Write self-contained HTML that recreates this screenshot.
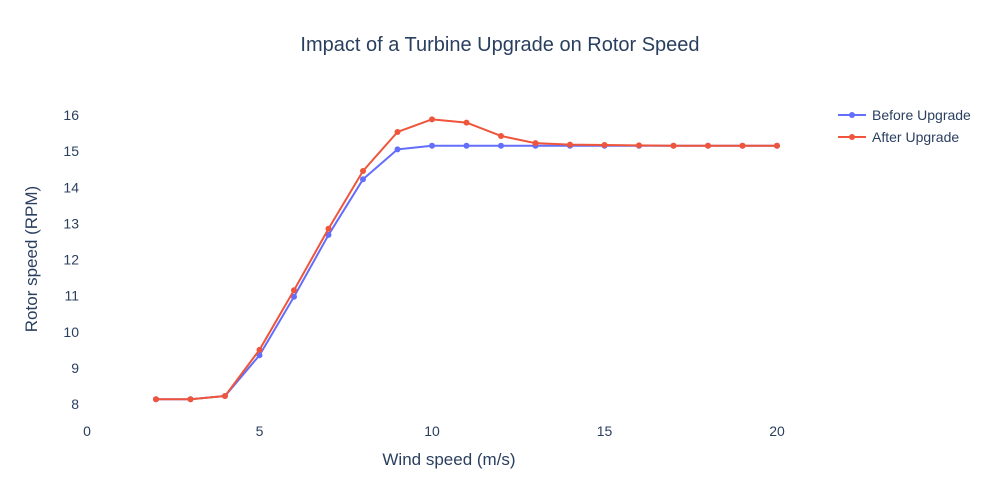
<!DOCTYPE html>
<html><head><meta charset="utf-8"><style>body{margin:0;background:#fff}svg{display:block;font-family:"Liberation Sans",Arial,sans-serif}</style></head>
<body>
<svg id="s" width="1000" height="500" xmlns="http://www.w3.org/2000/svg">
<rect width="1000" height="500" fill="#fff"/>
<text x="500" y="51" text-anchor="middle" font-size="20" fill="#2a3f5f">Impact of a Turbine Upgrade on Rotor Speed</text>
<g font-size="14" fill="#2a3f5f" text-anchor="middle">
<text x="87" y="436">0</text><text x="259.5" y="436">5</text><text x="432" y="436">10</text><text x="604.5" y="436">15</text><text x="777" y="436">20</text>
</g>
<g font-size="14" fill="#2a3f5f" text-anchor="end" id="yt"></g>
<text x="449" y="465" text-anchor="middle" font-size="17" fill="#2a3f5f">Wind speed (m/s)</text>
<text transform="translate(37,259) rotate(-90)" text-anchor="middle" font-size="17" fill="#2a3f5f">Rotor speed (RPM)</text>
<g id="d"></g>
<g font-size="14" fill="#2a3f5f">
<line x1="838" y1="115" x2="866" y2="115" stroke="#636efa" stroke-width="2"/><circle cx="852" cy="115" r="3" fill="#636efa"/>
<text x="872" y="120">Before Upgrade</text>
<line x1="838" y1="137" x2="866" y2="137" stroke="#ef553b" stroke-width="2"/><circle cx="852" cy="137" r="3" fill="#ef553b"/>
<text x="872" y="142">After Upgrade</text>
</g>
</svg>
<script>
var X=x=>87+34.5*x,Y=v=>404-36.125*(v-8);
var yt=document.getElementById('yt'),h='';
for(var v=8;v<=16;v++)h+='<text x="79" y="'+(Y(v)+5)+'">'+v+'</text>';
yt.innerHTML=h;
var b=[8.13,8.13,8.22,9.35,10.97,12.68,14.22,15.05,15.15,15.15,15.15,15.15,15.15,15.15,15.15,15.15,15.15,15.15,15.15];
var a=[8.13,8.13,8.22,9.5,11.15,12.85,14.45,15.53,15.88,15.79,15.42,15.22,15.18,15.17,15.16,15.15,15.15,15.15,15.15];
function s(d,c){var p=d.map((v,i)=>X(i+2)+','+Y(v)).join(' ');var o='<polyline points="'+p+'" fill="none" stroke="'+c+'" stroke-width="2" stroke-linejoin="round"/>';
d.forEach((v,i)=>o+='<circle cx="'+X(i+2)+'" cy="'+Y(v)+'" r="3" fill="'+c+'"/>');return o;}
document.getElementById('d').innerHTML=s(b,'#636efa')+s(a,'#ef553b');
</script>
</body></html>
